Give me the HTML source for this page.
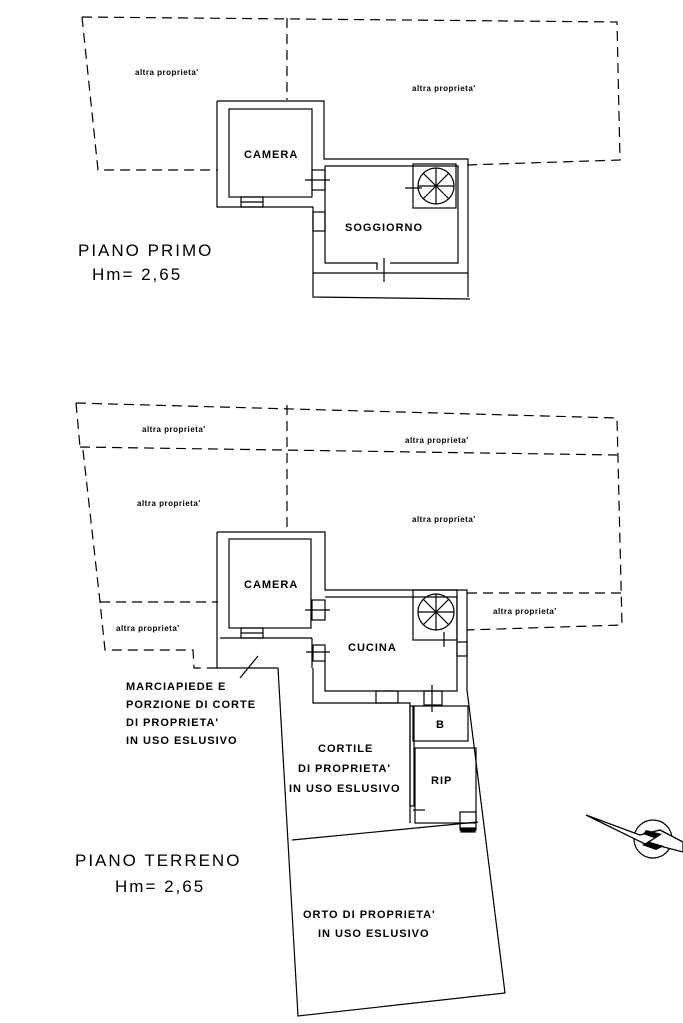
<!DOCTYPE html>
<html><head><meta charset="utf-8"><style>
html,body{margin:0;padding:0;background:#fff}
svg{display:block}
text{font-family:"Liberation Sans",sans-serif;fill:#000}
.s{font-size:8px;font-weight:bold;letter-spacing:0.5px}
.l{font-size:11px;font-weight:bold;letter-spacing:1px}
.b{font-size:17px;letter-spacing:2px}
</style></head><body>
<svg width="683" height="1023" viewBox="0 0 683 1023" xmlns="http://www.w3.org/2000/svg">
<g fill="none" stroke="#000" stroke-width="1.2">
<!-- TOP PLAN dashed -->
<g stroke-dasharray="10,6">
<polyline points="82,17 617,22 620,160 466,165"/>
<polyline points="82,17 98,170 218,170"/>
<line x1="287" y1="18" x2="287" y2="100"/>
</g>
<!-- top buildings -->
<polyline points="217,101 324,101 324,159 468,159 468,297"/>
<polyline points="217,101 217,207 313,207 313,297 470,299"/>
<rect x="229" y="109" width="83" height="88"/>
<polyline points="325,166 458,166 458,263 390,263"/>
<polyline points="325,166 325,263 377,263 377,270"/>
<line x1="313" y1="273" x2="468" y2="273"/>
<line x1="384" y1="258" x2="384" y2="282"/>
<rect x="312" y="170" width="13" height="20"/>
<line x1="305" y1="180" x2="330" y2="180"/>
<rect x="241" y="197" width="22" height="10"/>
<line x1="241" y1="202" x2="263" y2="202"/>
<rect x="313" y="212" width="12" height="19"/>
<rect x="413" y="164" width="43" height="44"/>
<circle cx="436" cy="186" r="18"/>
<line x1="436" y1="168" x2="436" y2="204"/><line x1="418" y1="186" x2="454" y2="186"/>
<line x1="423" y1="173" x2="449" y2="199"/><line x1="449" y1="173" x2="423" y2="199"/>
<line x1="405" y1="188" x2="422" y2="188"/>
<!-- BOTTOM PLAN dashed -->
<g stroke-dasharray="10,6">
<polyline points="76,403 617,418 622,625 467,630"/>
<line x1="80" y1="447" x2="617" y2="455"/>
<polyline points="76,403 80,447"/>
<polyline points="83,450 100,602 105,650 193,650 194,668 218,668"/>
<line x1="100" y1="602" x2="218" y2="602"/>
<line x1="287" y1="405" x2="287" y2="532"/>
<line x1="467" y1="593" x2="622" y2="593"/>
</g>
<!-- bottom buildings -->
<polyline points="217,532 325,532 325,590 467,590 467,690 505,993 298,1016 278,668 217,668 217,532"/>
<rect x="229" y="539" width="82" height="89"/>
<line x1="220" y1="638" x2="312" y2="638"/>
<polyline points="312,638 312,668"/>
<polyline points="325,597 457,597 457,691 325,691 325,660"/>
<polyline points="313,668 313,703 410,703 410,823"/>
<rect x="241" y="628" width="22" height="10"/>
<line x1="241" y1="633" x2="263" y2="633"/>
<rect x="312" y="600" width="13" height="20"/>
<line x1="305" y1="610" x2="330" y2="610"/>
<rect x="313" y="645" width="12" height="16"/>
<line x1="306" y1="652" x2="330" y2="652"/>
<rect x="376" y="691" width="22" height="12"/>
<rect x="424" y="691" width="18" height="14"/>
<line x1="432" y1="685" x2="432" y2="712"/>
<rect x="457" y="642" width="10" height="14"/>
<rect x="413" y="706" width="55" height="35"/>
<rect x="415" y="748" width="61" height="75"/>
<rect x="410" y="706" width="4" height="100"/>
<line x1="292" y1="840" x2="478" y2="822"/>
<line x1="413" y1="810" x2="425" y2="810"/>
<rect x="460" y="812" width="16" height="18"/>
<rect x="461" y="828" width="14" height="4" fill="#000"/>
<rect x="413" y="590" width="44" height="50"/>
<circle cx="436" cy="612" r="18"/>
<line x1="436" y1="594" x2="436" y2="630"/><line x1="418" y1="612" x2="454" y2="612"/>
<line x1="423" y1="599" x2="449" y2="625"/><line x1="449" y1="599" x2="423" y2="625"/>
<line x1="444" y1="632" x2="444" y2="647"/>
<line x1="240" y1="678" x2="258" y2="656"/>
<!-- compass -->
<circle cx="653" cy="839" r="19"/>
</g>
<polygon points="586,815 640,835 660,830 683,842 683,852 660,846 645,844" fill="#fff" stroke="#000" stroke-width="1.3"/>
<path d="M646,830 L662,834 L650,842 L664,846 L656,850 L642,845 L654,838 L643,834 Z" fill="#000"/>
<g class="s">
<text x="135" y="75">altra proprieta'</text>
<text x="412" y="91">altra proprieta'</text>
<text x="142" y="432">altra proprieta'</text>
<text x="405" y="443">altra proprieta'</text>
<text x="137" y="506">altra proprieta'</text>
<text x="412" y="522">altra proprieta'</text>
<text x="116" y="631">altra proprieta'</text>
<text x="493" y="614">altra proprieta'</text>
</g>
<g class="l">
<text x="244" y="158">CAMERA</text>
<text x="345" y="231">SOGGIORNO</text>
<text x="244" y="588">CAMERA</text>
<text x="348" y="651">CUCINA</text>
<text x="436" y="728">B</text>
<text x="431" y="784">RIP</text>
<text x="318" y="752">CORTILE</text>
<text x="298" y="772">DI PROPRIETA'</text>
<text x="289" y="792">IN USO ESLUSIVO</text>
<text x="126" y="690">MARCIAPIEDE E</text>
<text x="126" y="708">PORZIONE DI CORTE</text>
<text x="126" y="726">DI PROPRIETA'</text>
<text x="126" y="744">IN USO ESLUSIVO</text>
<text x="303" y="918">ORTO DI PROPRIETA'</text>
<text x="318" y="937">IN USO ESLUSIVO</text>
</g>
<g class="b">
<text x="78" y="256">PIANO PRIMO</text>
<text x="92" y="280">Hm= 2,65</text>
<text x="75" y="866">PIANO TERRENO</text>
<text x="115" y="892">Hm= 2,65</text>
</g>
</svg>
</body></html>
